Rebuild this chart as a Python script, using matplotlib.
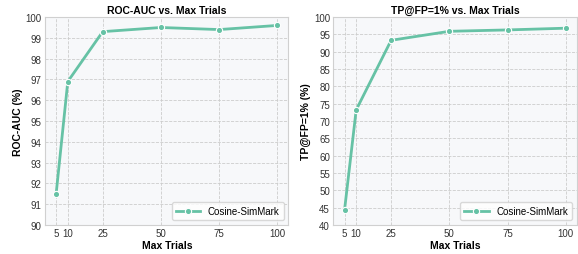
import numpy as np
import matplotlib
matplotlib.use("Agg")
from matplotlib import pyplot as plt

# data
trials = [5, 10, 25, 50, 75, 100]
roc_auc = [91.5, 96.9, 99.3, 99.5, 99.4, 99.6]
tp_at_fp1 = [44.3, 73.2, 93.3, 95.9, 96.3, 96.8]
label = "Cosine-SimMark"

color = "#66c2a5"
plt.rcParams['font.family'] = ['Liberation Sans', 'DejaVu Sans']
plt.rcParams['font.size'] = 7

fig, axes = plt.subplots(1, 2, figsize=(5.78, 2.55), dpi=100)

panels = [
    (axes[0], roc_auc, "ROC-AUC vs. Max Trials", "ROC-AUC (%)", (90, 100), np.arange(90, 101, 1)),
    (axes[1], tp_at_fp1, "TP@FP=1% vs. Max Trials", "TP@FP=1% (%)", (40, 100), np.arange(40, 101, 5)),
]

for ax, vals, title, ylab, ylim, yticks in panels:
    ax.set_facecolor("#f7f8fa")
    ax.plot(trials, vals, color=color, lw=2, marker="o", ms=4.5,
            markeredgecolor="white", markeredgewidth=0.8, label=label, zorder=3)
    ax.set_title(title, fontsize=7.5, fontweight="bold", pad=3)
    ax.set_xlabel("Max Trials", fontsize=7.5, fontweight="bold", labelpad=1)
    ax.set_ylabel(ylab, fontsize=7.5, fontweight="bold", labelpad=2)
    ax.set_ylim(*ylim)
    ax.set_yticks(yticks)
    ax.set_xticks(trials)
    ax.grid(True, ls="--", lw=0.6, color="#cccccc")
    ax.tick_params(length=0, pad=2.5, labelsize=7, colors="#333333")
    for s in ax.spines.values():
        s.set_color("#d0d0d0")
        s.set_linewidth(0.8)
    ax.legend(loc="lower right", fontsize=7, frameon=True, edgecolor="#d0d0d0",
              fancybox=True, borderpad=0.4, handlelength=2.5)

fig.subplots_adjust(left=0.078, right=0.998, top=0.929, bottom=0.114, wspace=0.185)
fig.savefig("out.png", dpi=100)
